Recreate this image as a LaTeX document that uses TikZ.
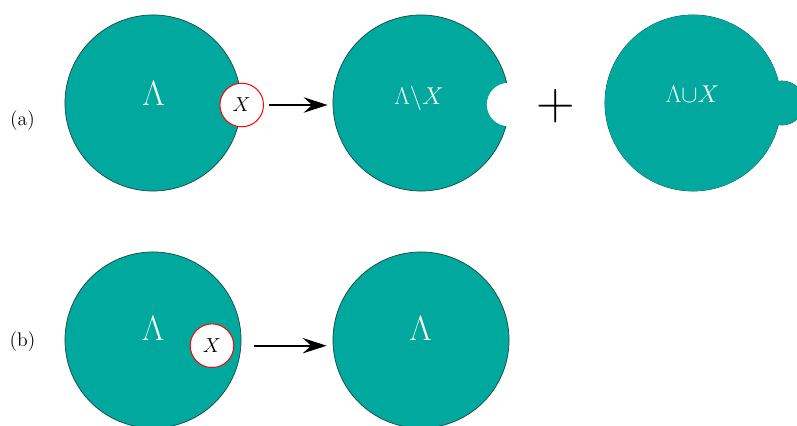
\documentclass[tikz,border=0pt]{standalone}
\usetikzlibrary{arrows.meta,calc}
\definecolor{tealfill}{RGB}{0,168,157}
\definecolor{tealline}{RGB}{25,70,70}
\begin{document}
\begin{tikzpicture}[x=0.025cm,y=-0.025cm,
  big/.style={circle, fill=tealfill, draw=tealline, line width=0.5pt, minimum size=125.2pt, inner sep=0},
  xcirc/.style={circle, fill=white, draw=red, line width=0.7pt, minimum size=31pt, inner sep=0, font=\fontsize{14.4}{15}\selectfont},
  lam/.style={text=white, inner sep=0, anchor=base},
  bigfont/.style={font=\fontsize{24.88}{25}\selectfont},
  midfont/.style={font=\fontsize{17.28}{18}\selectfont},
  arr/.style={-{Stealth[length=17pt,width=11pt,inset=6pt]}, line width=1.6pt},
  lbl/.style={font=\fontsize{14}{15}\selectfont, inner sep=0}]
\useasboundingbox (0,0) rectangle (797,426);
% row (a)
\node[lbl] (la) at (22.5,121) {(a)};
\node[big] (c1a) at (153,103) {};
\node[lam, bigfont] (t1a) at (153.7,106) {$\Lambda$};
\node[xcirc] (x1) at (241.7,105) {$X$};
\node[big] (c2a) at (421,103) {};
\node[circle, fill=white, minimum size=30.8pt, inner sep=0] (bite) at (508.5,104.5) {};
\node[lam, midfont] (t2a) at (419,105) {$\Lambda\backslash X$};
\draw[arr, shorten <=3.3pt, shorten >=3.6pt] (x1.east) -- (x1.east -| c2a.west);
\node[font=\fontsize{24.88}{25}\selectfont, inner sep=0, scale=1.527] (plus) at (556,106) {$+$};
\node[big] (c3a) at (693,103) {};
\node[circle, draw=tealline, line width=0.5pt, minimum size=31.3pt, inner sep=0] (bump) at (782,103) {};
\fill[tealfill] (c3a.center) circle[radius=62.6pt] (bump.center) circle[radius=15.65pt];
\node[lam, midfont] (t3a) at (692.5,103) {$\Lambda{\cup}X$};
% row (b)
\node[lbl] (lb) at (22.5,342) {(b)};
\node[big] (c1b) at (153,340) {};
\node[lam, bigfont] (t1b) at (153,340) {$\Lambda$};
\node[xcirc] (x2) at (212,345.7) {$X$};
\node[big] (c2b) at (421,340) {};
\node[lam, bigfont] (t2b) at (420.7,340) {$\Lambda$};
\draw[arr, shorten <=9.2pt, shorten >=4.3pt] (c1b.east |- x2.center) -- (c2b.west |- x2.center);
\end{tikzpicture}
\end{document}
